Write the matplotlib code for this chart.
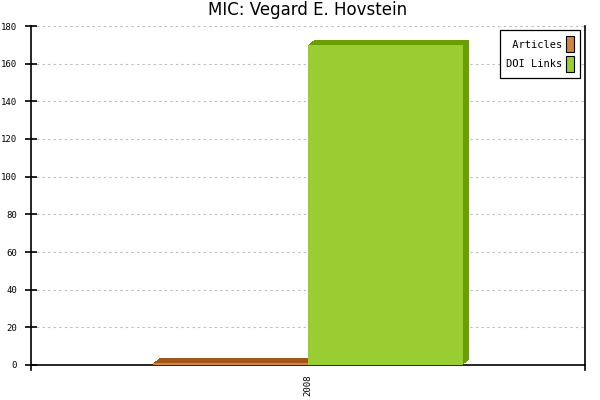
import matplotlib
matplotlib.use("Agg")
import matplotlib.pyplot as plt
from matplotlib.transforms import ScaledTranslation
from matplotlib.patches import Patch

title = "MIC: Vegard E. Hovstein"
categories = ["2008"]
series_names = ["Articles", "DOI Links"]
articles = [1]
doi_links = [170]
yticks = [0, 20, 40, 60, 80, 100, 120, 140, 160, 180]

front_colors = ["#CD853F", "#9ACD32"]
dark_colors = ["#A0561A", "#6B9E00"]

fig = plt.figure(figsize=(6, 4), dpi=100)
ax = fig.add_axes([31/600, 1-365/400, (585-31)/600, (365-26)/400])

ax.set_xlim(-1, 1)
ax.set_ylim(0, 180)

width = 0.56
xs = list(range(len(categories)))
series = [articles, doi_links]
offsets = [-width/2, width/2]

# 3D depth: 6 px right, 5 px up, drawn as stacked shifted copies
steps = 6
for si, vals in enumerate(series):
    pos = [x + offsets[si] for x in xs]
    for k in range(steps, 0, -1):
        tr = ax.transData + ScaledTranslation(k*1/100, k*(5/6)/100, fig.dpi_scale_trans)
        ax.bar(pos, vals, width=width, color=dark_colors[si], transform=tr,
               zorder=3+si*2, linewidth=0)
    ax.bar(pos, vals, width=width, color=front_colors[si], zorder=4+si*2, linewidth=0)

ax.set_yticks(yticks)
ax.set_yticklabels([str(v) for v in yticks], fontsize=6.5, family="DejaVu Sans Mono")
ax.set_xticks(xs)
ax.set_xticklabels(categories, rotation=90, fontsize=6.5, family="DejaVu Sans Mono")
ax.tick_params(axis="x", length=0, pad=7)
ax.tick_params(axis="y", direction="inout", length=8, width=1.2, pad=6)

ax.grid(axis="y", color="#bbbbbb", linestyle=(0, (2, 3)), linewidth=0.8, zorder=0)
ax.set_axisbelow(True)

ax.spines["top"].set_visible(False)
for s in ["left", "right", "bottom"]:
    ax.spines[s].set_linewidth(1.2)
ax.spines["left"].set_bounds(-2.8, 180)
ax.spines["right"].set_bounds(-2.8, 180)

ax.set_title(title, fontsize=12, pad=8, family="DejaVu Sans")

width_chars = max(len(n) for n in series_names)
legend_labels = [n.rjust(width_chars) for n in series_names]
handles = [Patch(facecolor=front_colors[i], edgecolor="black", linewidth=0.8) for i in range(2)]
leg = ax.legend(handles, legend_labels, loc="upper right", markerfirst=False,
                prop={"family": "DejaVu Sans Mono", "size": 7.5},
                handlelength=0.7, handleheight=2.0, handletextpad=0.4,
                labelspacing=0.3, borderpad=0.6, borderaxespad=0,
                fancybox=False, framealpha=1, edgecolor="black",
                bbox_to_anchor=(0.991, 0.988))
leg.get_frame().set_linewidth(0.9)
leg.set_zorder(10)

fig.savefig("out.png", dpi=100)
